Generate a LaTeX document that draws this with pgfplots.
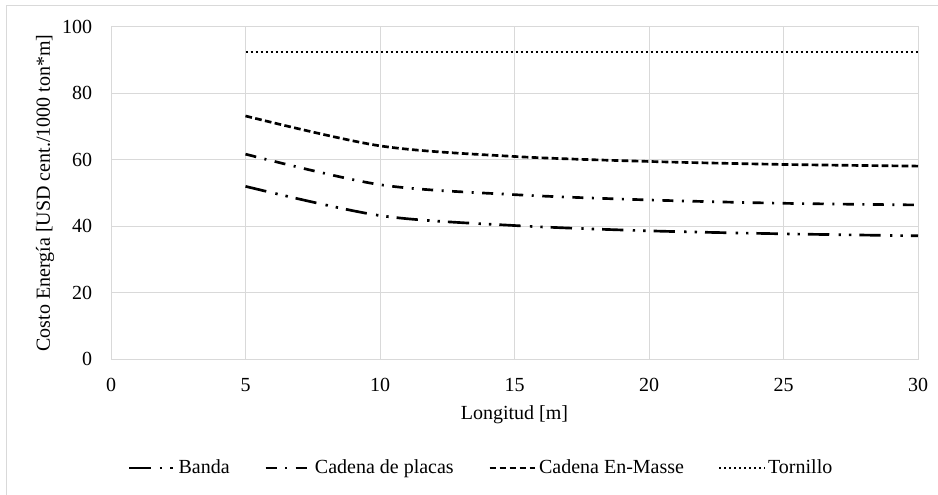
\documentclass[border=0pt]{standalone}
\usepackage{fontspec}
\setmainfont{Liberation Serif}
\usepackage{pgfplots}
\pgfplotsset{compat=1.18}

\definecolor{gridgray}{HTML}{D9D9D9}

% Energy cost per conveyor type versus length
\pgfplotstableread{
L    banda  placas  masse  tornillo
5    52.0   61.7    73.2   92.4
10   43.2   52.5    64.2   92.4
15   40.2   49.5    61.0   92.4
20   38.6   47.9    59.5   92.4
25   37.7   46.9    58.6   92.4
30   37.1   46.4    58.1   92.4
}\datatable

\begin{document}
\begin{tikzpicture}[font=\fontsize{15bp}{18bp}\selectfont]
\path[use as bounding box] (-83.25bp,-102bp) rectangle (620.25bp,269.25bp);
\draw[gridgray, line width=0.75bp] (-78bp,-120bp) -- (-78bp,264.75bp) -- (640bp,264.75bp);
\begin{axis}[
  scale only axis,
  width=605.25bp, height=249bp,
  xmin=0, xmax=30, ymin=0, ymax=100,
  xtick={0,5,...,30}, ytick={0,20,...,100},
  grid=major,
  major grid style={draw=gridgray, line width=0.75bp},
  axis line style={draw=gridgray, line width=0.75bp},
  tick style={draw=none},
  /pgf/number format/assume math mode=true,
  xticklabel style={anchor=center, inner sep=0pt, yshift=-19.5bp},
  yticklabel style={anchor=east, inner sep=0pt, xshift=-14bp},
  xlabel={Longitud [m]},
  ylabel={Costo Energía [USD cent./1000 ton*m]},
  xlabel style={at={(axis description cs:0.5,-0.1687)}, anchor=center},
  ylabel style={at={(axis description cs:-0.0818,0.5)}, anchor=center},
  legend style={at={(axis description cs:0.459,-0.3283)}, anchor=center,
    draw=none, fill=none, legend columns=4,
    /tikz/every even column/.append style={column sep=24bp},
    font=\fontsize{15bp}{18bp}\selectfont},
  legend cell align=left,
  legend image code/.code={\draw[#1] (0bp,0bp) -- (34bp,0bp);},
]
\addplot[black, line width=2bp, line cap=butt, smooth,
  dash pattern=on 16bp off 7bp on 1.8bp off 6bp on 1.8bp off 6bp]
  table[x=L, y=banda] {\datatable};
\addlegendentry{Banda}
\addplot[black, line width=2bp, line cap=butt, smooth,
  dash pattern=on 8.25bp off 6.4bp on 1.5bp off 6.4bp]
  table[x=L, y=placas] {\datatable};
\addlegendentry{Cadena de placas}
\addplot[black, line width=2bp, line cap=butt, smooth,
  dash pattern=on 5bp off 2.5bp]
  table[x=L, y=masse] {\datatable};
\addlegendentry{Cadena En-Masse}
\addplot[black, line width=1.1bp, line cap=butt,
  dash pattern=on 1.5bp off 2.25bp]
  table[x=L, y=tornillo] {\datatable};
\addlegendentry{Tornillo}
\end{axis}
\end{tikzpicture}
\end{document}
